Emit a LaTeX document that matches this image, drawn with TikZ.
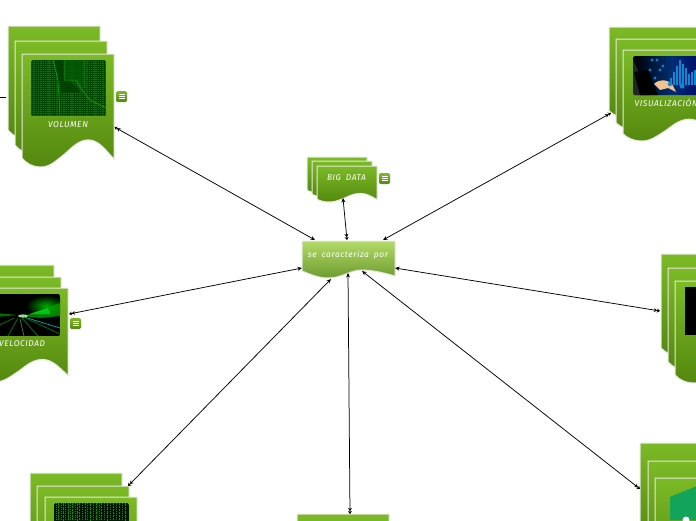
\documentclass[tikz,border=0pt]{standalone}
\usepackage{fontspec}
\setmainfont{Lato}
\newfontfamily\lbl[LetterSpace=7,WordSpace=1.8]{Fira Sans}
\usetikzlibrary{arrows.meta}
\definecolor{pgtop}{HTML}{7CBA26}
\definecolor{pgbot}{HTML}{54880F}
\definecolor{pgedge}{HTML}{E6E8E0}
\definecolor{hexgreen}{HTML}{11A45A}
\definecolor{cfill1}{HTML}{B2DB68}
\definecolor{cfill2}{HTML}{6F9C30}
\tikzset{
  x=1pt,y=-1pt,
  pagefill/.style={draw=pgedge,line width=1pt,top color=pgtop,bottom color=pgbot},
  centerfill/.style={draw=pgedge,line width=1pt,top color=cfill1,bottom color=cfill2},
  linklab/.style={font=\lbl\itshape\fontsize{8.4}{10}\selectfont,text=white,inner sep=0pt},
  linkline/.style={draw=black,line width=.75pt,{Stealth[length=4.5pt,width=4pt]}-{Stealth[length=3pt,width=4pt]Stealth[length=3pt,width=4pt]}},
  menubox/.style={draw=none,rounded corners=1.5pt,top color=pgtop,bottom color=pgbot,minimum size=11pt,inner sep=0pt}
}
% x y w h
\newcommand{\pagepath}[4]{%
  (#1,#2) -- ({#1+#3},#2) -- ({#1+#3},{#2+.93*#4})
  .. controls ({#1+.9*#3},{#2+.84*#4}) and ({#1+.83*#3},{#2+.76*#4}) .. ({#1+.72*#3},{#2+.76*#4})
  .. controls ({#1+.6*#3},{#2+.76*#4}) and ({#1+.52*#3},{#2+.85*#4}) .. ({#1+.44*#3},{#2+.9*#4})
  .. controls ({#1+.36*#3},{#2+.95*#4}) and ({#1+.3*#3},{#2+#4}) .. ({#1+.2*#3},{#2+#4})
  .. controls ({#1+.12*#3},{#2+#4}) and ({#1+.05*#3},{#2+.97*#4}) .. (#1,{#2+.92*#4}) -- cycle}
\newcommand{\stack}[8]{% x1 y1 x2 y2 x3 y3 w h
  \path[pagefill] \pagepath{#1}{#2}{#7}{#8};
  \path[pagefill] \pagepath{#3}{#4}{#7}{#8};
  \path[pagefill] \pagepath{#5}{#6}{#7}{#8};}
\newcommand{\menuicon}[3]{%
  \node[menubox] (#1) at (#2,#3) {};
  \draw[white,line width=.9pt] ({#2-3},{#3-2.4}) -- ({#2+3},{#3-2.4}) ({#2-3},#3) -- ({#2+3},#3) ({#2-3},{#3+2.4}) -- ({#2+3},{#3+2.4});}
\begin{document}
\begin{tikzpicture}
\useasboundingbox[fill=white] (0,0) rectangle (696,520);
\begin{scope}
\clip (0,0) rectangle (696,520);
% stacks
\stack{8}{26}{15}{41}{22}{54}{92}{113}
\stack{307}{157}{312}{161}{317}{166}{60}{36}
\stack{609}{27}{616}{39}{623}{50}{92}{91}
\stack{-38}{265}{-31}{277}{-24}{288}{92}{94}
\stack{661}{254}{668}{268}{675}{281}{92}{102}
\stack{30}{473}{37}{486}{45}{497}{92}{100}
\stack{640}{443}{648}{461}{655}{478}{92}{100}
\path[pagefill] \pagepath{297}{514}{92}{100};
% center
\path[centerfill] (302,241) -- (395,241) -- (395,276)
  .. controls (385,273) and (372,270) .. (362,270)
  .. controls (350,270) and (342,278) .. (328,278)
  .. controls (318,278) and (310,274) .. (302,271) -- cycle;
% image volumen
\begin{scope}
\clip[rounded corners=1.5pt] (31,60) rectangle (106,116);
\fill[black!72!green] (31,60) rectangle (106,116);
\foreach \yy in {61,63,...,115}{\draw[green!50!black,line width=.9pt,dash pattern=on 1.4pt off .9pt] (31,\yy) -- (106,\yy);}
\fill[green!35!black,opacity=.7] (64,60) -- (84,60) -- (84,84) -- (66,80) -- cycle;
\fill[black!75!green,opacity=.9] (55,60) -- (64,60) -- (64,78) -- (72,82) -- (80,92) -- (60,92) -- cycle;
\draw[green!70!black,line width=.5pt] (53,60) -- (58,80) -- (60,116) (64,60) -- (64,80) -- (76,80) -- (82,90) -- (90,100) -- (106,108) (84,60) -- (84,88);
\end{scope}
% image visualizacion
\begin{scope}
\clip[rounded corners=1.5pt] (633,56) rectangle (710,95);
\shade[left color=black,right color=blue!40!black,middle color=cyan!40!blue!45!black] (633,56) rectangle (710,95);
\fill[black!85] (633,60) -- (650,95) -- (633,95) -- cycle;
\fill[black] (634,72) -- (648,70) -- (658,95) -- (640,95) -- cycle;
\foreach \xx/\yy in {670/78,673/72,676/66,679/60,682/64,685/68,688/74,691/72,694/70}{\fill[cyan!70!blue] (\xx,85) rectangle ({\xx+1.6},\yy);}
\foreach \xx/\yy in {652/60,657/60,650/70,660/70,655/78,663/66}{\fill[cyan!60!blue] (\xx,\yy) circle (1.7);}
\fill[orange!35!white!80!brown] (654,84) .. controls (660,78) and (668,80) .. (672,84) -- (676,92) -- (668,88) -- (660,90) -- cycle;
\fill[cyan!70!blue] (670,84) circle (2.2) (682,86) circle (2.6);
\end{scope}
% image velocidad
\begin{scope}
\clip[rounded corners=1.5pt] (-15,294) rectangle (60,336);
\fill[black] (-15,294) rectangle (60,336);
\shade[inner color=green!70!black,outer color=black,opacity=.95] (46,306) ellipse (20 and 11);
\fill[green!65!black,opacity=.75] (24,316) -- (60,303) -- (60,316) -- (40,318) -- cycle;
\fill[green!85!cyan,opacity=.5] (30,314) -- (48,308) -- (50,314) -- cycle;
\fill[white!75!green,opacity=.85] (23,316) ellipse (5 and 1.6);
\fill[green!60!black,opacity=.7] (-15,312) -- (18,315) -- (-15,318) -- cycle;
\draw[cyan!60!green,line width=.7pt] (24,317) -- (60,328);
\draw[green!45!black,line width=.8pt] (22,318) -- (38,336) (18,318) -- (8,336) (26,318) -- (60,334) (14,318) -- (-15,332);
\draw[gray!70!green,line width=.5pt] (20,319) -- (24,336);
\end{scope}
% image right
\fill[black] (685,287) rectangle (710,335);
% image matrix
\begin{scope}
\clip[rounded corners=1.5pt] (54,503) rectangle (129,525);
\fill[black!90!green] (54,503) rectangle (129,525);
\foreach \xx/\dd in {56/1,58/2,61/1,63/3,65/1,68/2,70/1,72/2,75/1,77/3,79/2,82/1,85/2,87/1,90/3,93/1,96/2,99/1,101/2,104/1,107/3,110/1,113/2,116/1,119/2,122/1,125/3}{
  \draw[green!60!black,line width=.9pt,dash pattern=on \dd pt off 1pt] (\xx,503) -- (\xx,521);}
\end{scope}
% hexagon
\fill[hexgreen] (670,497) -- (697,486) -- (697,520) -- (670,520) -- cycle;
\fill[white] (686,520) circle (3.5);
\end{scope}
% names
\coordinate (edgeVol) at (114.5,127);
\coordinate (edgeVis) at (611,113);
\coordinate (edgeBig) at (343,198);
\coordinate (edgeVel) at (69,314);
\coordinate (edgeRgt) at (660,311);
\coordinate (edgeMat) at (128,486);
\coordinate (edgeBot) at (350,514);
\coordinate (edgeHex) at (640,489);
\coordinate (cenVol) at (315,240);
\coordinate (cenVis) at (383,240);
\coordinate (cenBig) at (347,240);
\coordinate (cenVel) at (302,268);
\coordinate (cenRgt) at (395,268);
\coordinate (cenMat) at (331,279);
\coordinate (cenBot) at (348,273);
\coordinate (cenHex) at (362,271);
\coordinate (stubA) at (0,97);
\coordinate (stubB) at (6,97);
\draw[black,line width=.75pt] (stubA) -- (stubB);
\draw[linkline] (cenVol) -- (edgeVol);
\draw[linkline] (edgeBig) -- (cenBig);
\draw[linkline] (cenVis) -- (edgeVis);
\draw[linkline] (cenVel) -- (edgeVel);
\draw[linkline] (cenRgt) -- (edgeRgt);
\draw[linkline] (cenMat) -- (edgeMat);
\draw[linkline] (cenBot) -- (edgeBot);
\draw[linkline] (cenHex) -- (edgeHex);
% labels
\node[linklab] (tVol) at (68,124.5) {VOLUMEN};
\node[linklab] (tBig) at (346.5,177.5) {BIG DATA};
\node[linklab] (tCen) at (348,255) {se caracteriza por};
\node[linklab,anchor=west] (tVis) at (634.5,103) {VISUALIZACIÓN};
\node[linklab,anchor=west] (tVel) at (-1,344) {VELOCIDAD};
\menuicon{mVol}{121.5}{96.5}
\menuicon{mBig}{384.5}{178.5}
\menuicon{mVel}{75.5}{323.5}
\end{tikzpicture}
\end{document}
